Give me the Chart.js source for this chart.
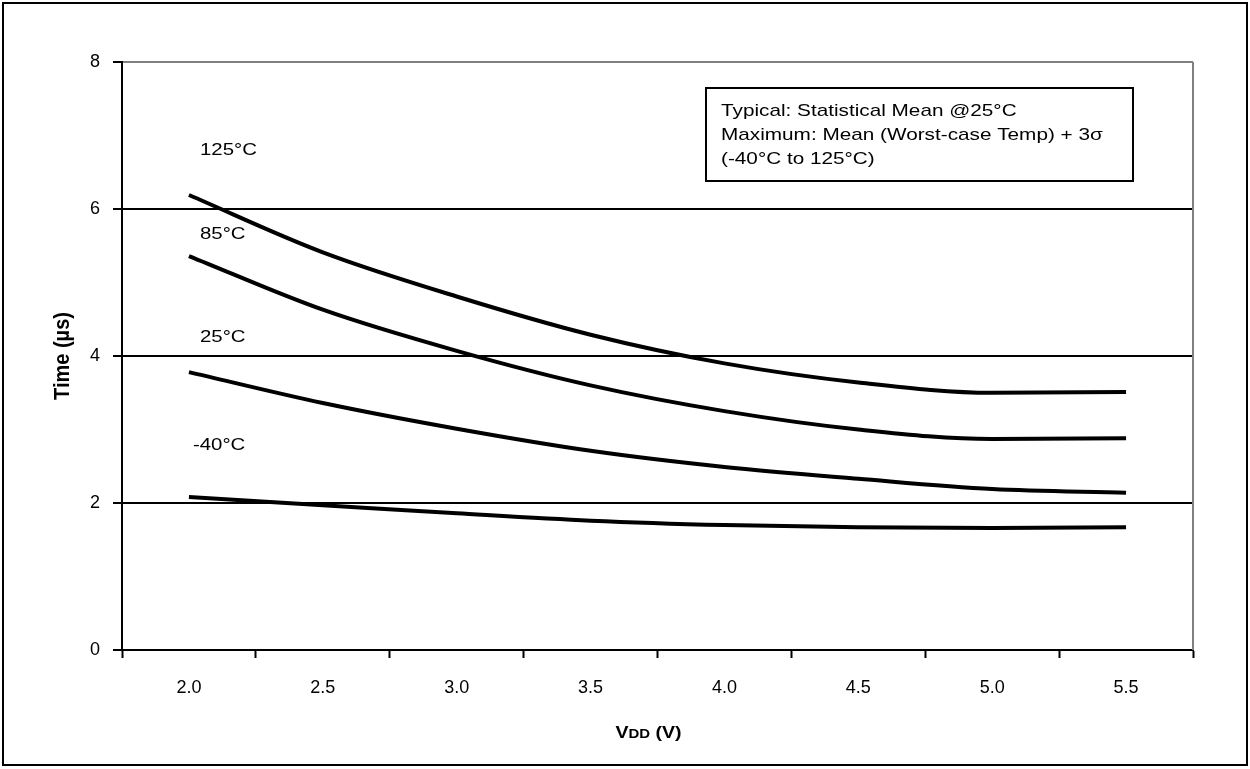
<!DOCTYPE html>
<html>
<head>
<meta charset="utf-8">
<script src="https://cdn.jsdelivr.net/npm/chart.js@4.4.1/dist/chart.umd.min.js"></script>
<style>
html,body{margin:0;padding:0;background:#fff;}
#wrap{width:1250px;height:769px;position:relative;}
</style>
</head>
<body>
<div id="wrap"><canvas id="c" width="1250" height="769"></canvas></div>
<script>
const categories = ['2.0','2.5','3.0','3.5','4.0','4.5','5.0','5.5'];
const t125 = [6.19, 5.41, 4.81, 4.29, 3.90, 3.64, 3.50, 3.51];
const t85  = [5.36, 4.63, 4.07, 3.60, 3.25, 3.00, 2.87, 2.88];
const t25  = [3.78, 3.36, 3.01, 2.71, 2.49, 2.33, 2.19, 2.14];
const tm40 = [2.08, 1.97, 1.86, 1.76, 1.70, 1.67, 1.66, 1.67];
const seriesNames = ['125°C','85°C','25°C','-40°C'];
const labelValues = [6.8, 5.66, 4.25, 2.79];
const yTicks = [0, 2, 4, 6, 8];
const noteLines = ['Typical: Statistical Mean @25°C','Maximum: Mean (Worst-case Temp) + 3σ','(-40°C to 125°C)'];

const FONT = '"Liberation Sans", Arial, Helvetica, sans-serif';
const STRETCH = 1.2;

function wideText(ctx, text, x, y, sx) {
  ctx.save();
  ctx.translate(x, y);
  ctx.scale(sx, 1);
  ctx.fillText(text, 0, 0);
  ctx.restore();
}

const decor = {
  id: 'decor',
  beforeDraw(chart) {
    const ctx = chart.ctx;
    ctx.save();
    ctx.fillStyle = '#fff';
    ctx.fillRect(0, 0, chart.width, chart.height);
    ctx.strokeStyle = '#000';
    ctx.lineWidth = 2;
    ctx.strokeRect(3, 3, chart.width - 6, chart.height - 7);
    ctx.restore();
  },
  afterDraw(chart) {
    const ctx = chart.ctx;
    const a = chart.chartArea;
    const xs = chart.scales.x, ys = chart.scales.y;
    ctx.save();
    ctx.strokeStyle = '#808080';
    ctx.lineWidth = 2;
    ctx.beginPath();
    ctx.moveTo(a.right, a.top);
    ctx.lineTo(a.right, a.bottom);
    ctx.stroke();
    ctx.fillStyle = '#000';
    ctx.font = '17px ' + FONT;
    ctx.textBaseline = 'middle';
    ctx.textAlign = 'left';
    const x0 = xs.getPixelForValue(0);
    seriesNames.forEach((n, i) => {
      const off = n.startsWith('-') ? 4 : 11;
      wideText(ctx, n, x0 + off, ys.getPixelForValue(labelValues[i]), STRETCH);
    });
    const bx = a.left + 584, by = a.top + 26, bw = 427, bh = 93;
    ctx.strokeStyle = '#000';
    ctx.lineWidth = 2;
    ctx.strokeRect(bx, by, bw, bh);
    ctx.font = '17px ' + FONT;
    ctx.textBaseline = 'alphabetic';
    noteLines.forEach((t, i) => wideText(ctx, t, bx + 15, by + 28 + i * 24, 1.22));
    ctx.save();
    ctx.translate(69, (a.top + a.bottom) / 2);
    ctx.rotate(-Math.PI / 2);
    ctx.scale(1, 1.12);
    ctx.textAlign = 'center';
    ctx.textBaseline = 'alphabetic';
    ctx.font = 'bold 20px ' + FONT;
    ctx.fillText('Time (µs)', 0, 0);
    ctx.restore();
    const cx = (a.left + a.right) / 2 - 9, cy = 738;
    const sx2 = 1.15;
    ctx.font = 'bold 17px ' + FONT;
    const wV = ctx.measureText('V').width * sx2;
    const wP = ctx.measureText(' (V)').width * sx2;
    ctx.font = 'bold 13px ' + FONT;
    const wD = ctx.measureText('DD').width * sx2;
    let sx = cx - (wV + wD + wP) / 2;
    ctx.textAlign = 'left';
    ctx.textBaseline = 'alphabetic';
    ctx.font = 'bold 17px ' + FONT;
    wideText(ctx, 'V', sx, cy, sx2);
    ctx.font = 'bold 13px ' + FONT;
    wideText(ctx, 'DD', sx + wV, cy, sx2);
    ctx.font = 'bold 17px ' + FONT;
    wideText(ctx, ' (V)', sx + wV + wD, cy, sx2);
    ctx.restore();
  }
};

const mk = (d) => ({
  data: d,
  borderColor: '#000',
  borderWidth: 4,
  pointRadius: 0,
  fill: false,
  cubicInterpolationMode: 'monotone'
});

new Chart(document.getElementById('c'), {
  type: 'line',
  data: {
    labels: categories,
    datasets: [mk(t125), mk(t85), mk(t25), mk(tm40)]
  },
  options: {
    responsive: false,
    animation: false,
    devicePixelRatio: 1,
    layout: { padding: { left: 0, right: 57, top: 62, bottom: 0 } },
    plugins: { legend: { display: false }, tooltip: { enabled: false } },
    scales: {
      x: {
        type: 'category',
        offset: true,
        afterFit(s) { s.height = 119; },
        grid: {
          offset: true,
          drawOnChartArea: false,
          drawTicks: true,
          tickLength: 8,
          tickColor: '#000',
          tickWidth: 2
        },
        border: { color: '#000', width: 2 },
        ticks: {
          color: '#000',
          font: { family: FONT, size: 18 },
          padding: 19,
          maxRotation: 0
        }
      },
      y: {
        min: 0, max: 8,
        afterFit(s) { s.width = 122; },
        afterBuildTicks(s) { s.ticks = yTicks.map(v => ({ value: v })); },
        grid: {
          color: (c) => (c.tick && c.tick.value === 8) ? '#808080' : '#000',
          lineWidth: 2,
          tickLength: 9,
          tickColor: '#000',
          tickWidth: 2
        },
        border: { color: '#000', width: 2 },
        ticks: {
          color: '#000',
          font: { family: FONT, size: 18 },
          padding: 13
        }
      }
    }
  },
  plugins: [decor]
});
</script>
</body>
</html>
